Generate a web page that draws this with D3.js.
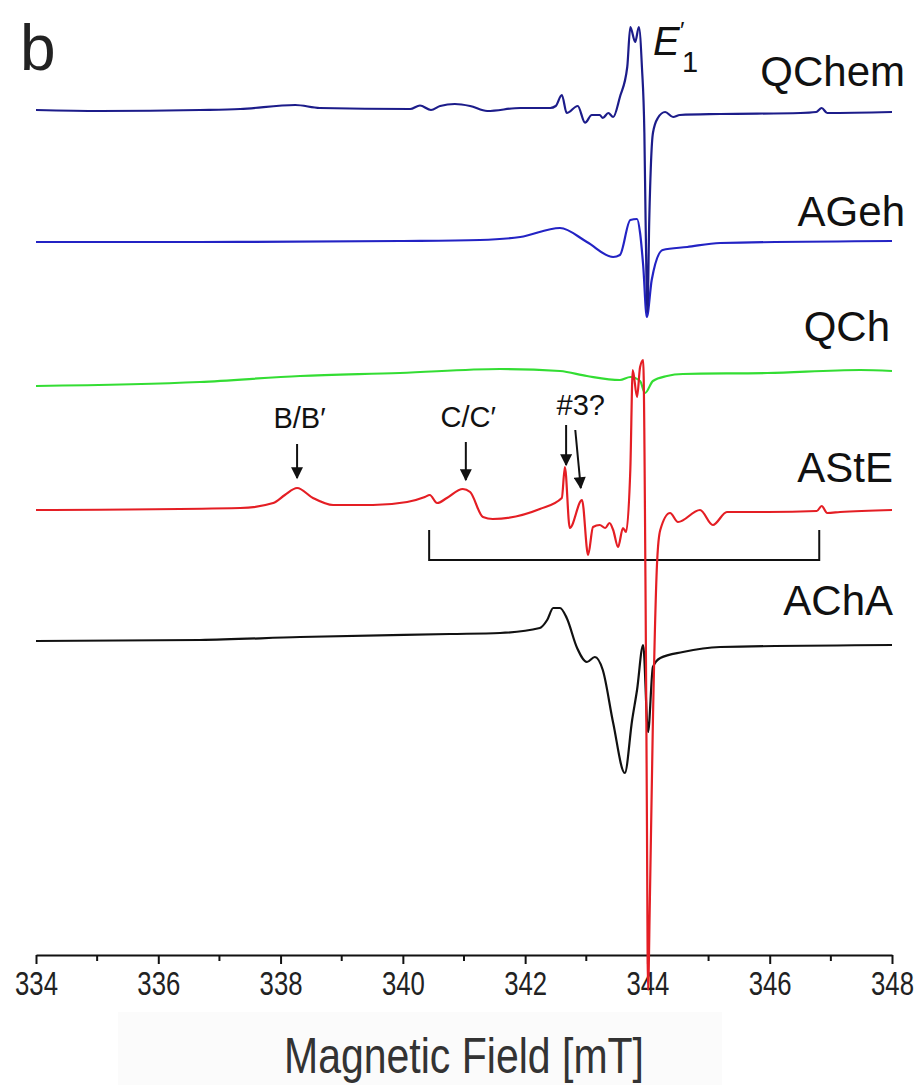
<!DOCTYPE html>
<html><head><meta charset="utf-8">
<script src="https://cdn.jsdelivr.net/npm/d3@7"></script>
<style>body{margin:0;background:#fff} svg{display:block;font-family:"Liberation Sans",Arial,sans-serif}</style>
</head><body>
<svg id="c" width="919" height="1085"></svg>
<script>
// ---------- data ----------
const fieldTicks = [334, 336, 338, 340, 342, 344, 346, 348];
const minorTicks = [335, 337, 339, 341, 343, 345, 347];
const traceNames = ["QChem", "AGeh", "QCh", "AStE", "AChA"];
const traceColors = ["#1c1c8a", "#2323c4", "#33dd33", "#e41e24", "#111111"];
const traceOffsets = [844, 714, 577, 445, 314]; // vertical stacking offsets (a.u.)

const qchemField  = [334.00,335.05,336.68,337.34,338.24,338.64,340.12,340.28,340.46,340.61,340.85,341.10,341.38,341.92,342.41,342.50,342.60,342.68,342.86,342.98,343.09,343.22,343.27,343.36,343.44,343.55,343.67,343.72,343.80,343.86,343.91,343.95,343.97,344.00,344.03,344.09,344.17,344.29,344.42,344.53,345.19,346.50,346.76,346.85,346.94,348.00];
const qchemSignal = [1,0,1,2,6,3,2,5.5,1,5,7,5,0,3,3,5,16,-2,5,-11.7,-4,-4,-7,-2,-6,14,44,84,69,84,44,-22,-109,-201,-109,-22,-7,-1,-6,-4,-3,-2,-1,3,-2,-1];

const agehField  = [334.00,336.68,339.95,341.26,341.92,342.57,343.01,343.44,343.55,343.72,343.83,343.88,343.93,343.99,344.07,344.25,344.65,345.19,348.00];
const agehSignal = [-1,-1,0,1,4,13,-1,-16,-14,21,22,8,-24,-76,-39,-9,-6,-2,0];

const qchField  = [334.00,336.68,338.32,339.95,341.59,342.57,343.01,343.55,343.72,343.88,343.96,344.09,344.32,344.58,345.96,347.48,348.00];
const qchSignal = [-8,-4,2,5,9,7,2,-2,1,-3,-15,-3,2,4,5,8,7];

const asteField  = [334.00,337.34,337.88,338.07,338.27,338.53,338.86,339.51,340.07,340.36,340.44,340.56,340.72,340.98,341.10,341.31,341.47,342.24,342.60,342.65,342.73,342.93,343.03,343.11,343.22,343.31,343.38,343.44,343.52,343.60,343.65,343.72,343.76,343.83,343.88,343.93,343.97,343.99,344.01,344.04,344.09,344.16,344.21,344.37,344.50,344.86,345.07,345.30,345.96,346.77,346.85,346.94,347.15,348.00];
const asteSignal = [0,2,7,15,22,12,5,5,8,13,15,7,12,21,18,-7,-9,1,12,43,-18,10,-45,-17,-15,-18,-13,-20,-37,-18,-22,40,140,113,143,150,-90,-290,-480,-390,-210,-50,-20,-3,-12,0,-15,-2,-2,-1,4,-3,-2,0];

const achaField  = [334.00,336.68,338.32,340.77,341.59,342.24,342.36,342.46,342.57,342.68,342.85,343.01,343.14,343.27,343.44,343.63,343.75,343.83,343.93,344.01,344.09,344.21,344.58,345.19,348.00];
const achaSignal = [0,1,4,7,8,13,21,33,33,23,-7,-21,-16,-29,-82,-132,-79,-49,-4,-91,-26,-17,-11,-6,-4];

// annotations on the AStE trace (field in mT, heights in a.u. above its baseline)
const arrowLabels = ["B/B\u2032", "C/C\u2032", "#3?"];
const labelField  = [338.31, 341.07, 342.91];
const labelHeight = [82, 83, 95];
const arrowStartField = [338.27, 341.03, 342.67, 342.82];
const arrowStartHeight = [66, 68, 85, 80];
const arrowEndField   = [338.27, 341.03, 342.67, 342.91];
const arrowEndHeight  = [32, 30, 45, 22];
const bracketField = [340.43, 346.81];
const bracketHeights = [-20, -50];

// ---------- drawing ----------
const svg = d3.select("#c");
const x = d3.scaleLinear().domain([334, 348]).range([36, 892]);
const y = d3.scaleLinear().domain([0, 955]).range([955, 0]);

// very faint box behind axis title (as in the scan)
svg.append("rect").attr("x", 118).attr("y", 1012).attr("width", 604).attr("height", 73).attr("fill", "#fbfbfb");

const traces = [
  [qchemField, qchemSignal], [agehField, agehSignal], [qchField, qchSignal],
  [asteField, asteSignal], [achaField, achaSignal]
];

// axis
const axisG = svg.append("g").attr("transform", `translate(0,${y(0)})`);
axisG.call(d3.axisBottom(x).tickValues(fieldTicks).tickSize(9).tickSizeOuter(0).tickPadding(8).tickFormat(d3.format("d")));
axisG.select(".domain").attr("stroke", "#111").attr("stroke-width", 2);
axisG.selectAll(".tick line").attr("stroke", "#111").attr("stroke-width", 2);
axisG.selectAll(".tick text").attr("font-size", 33).attr("fill", "#222")
  .attr("font-family", "'Liberation Sans',Arial,sans-serif")
  .attr("transform", "scale(0.78,1)");
axisG.selectAll(".minor").data(minorTicks).enter().append("line")
  .attr("x1", d => x(d)).attr("x2", d => x(d)).attr("y1", 0).attr("y2", 6)
  .attr("stroke", "#111").attr("stroke-width", 2);

svg.append("text").attr("transform", `translate(${x(341)},1073) scale(0.82,1)`)
  .attr("text-anchor", "middle").attr("font-size", 50).attr("fill", "#333")
  .text("Magnetic Field [mT]");

// bracket
svg.append("path")
  .attr("d", `M${x(bracketField[0])},${y(traceOffsets[3] + bracketHeights[0])} L${x(bracketField[0])},${y(traceOffsets[3] + bracketHeights[1])} L${x(bracketField[1])},${y(traceOffsets[3] + bracketHeights[1])} L${x(bracketField[1])},${y(traceOffsets[3] + bracketHeights[0])}`)
  .attr("fill", "none").attr("stroke", "#111").attr("stroke-width", 2);

// traces
const line = d3.line().curve(d3.curveMonotoneX);
const drawOrder = [4, 2, 1, 0, 3];
drawOrder.forEach(i => {
  const [f, s] = traces[i];
  const pts = f.map((fv, k) => [x(fv), y(traceOffsets[i] + s[k])]);
  svg.append("path").attr("d", line(pts)).attr("fill", "none")
    .attr("stroke", traceColors[i]).attr("stroke-width", 2.2).attr("stroke-linejoin", "round");
});

// trace labels
const labelPos = [[905, 86], [905, 226], [890, 341], [893, 482], [893, 615]];
traceNames.forEach((n, i) => {
  svg.append("text").attr("x", labelPos[i][0]).attr("y", labelPos[i][1])
    .attr("text-anchor", "end").attr("font-size", 42).attr("fill", "#111").text(n);
});

// arrows
const defs = svg.append("defs");
defs.append("marker").attr("id", "ah").attr("viewBox", "0 0 10 10").attr("refX", 9).attr("refY", 5)
  .attr("markerWidth", 7).attr("markerHeight", 6).attr("markerUnits", "strokeWidth").attr("orient", "auto")
  .append("path").attr("d", "M0,0 L10,5 L0,10 z").attr("fill", "#111");
arrowStartField.forEach((f, i) => {
  svg.append("line")
    .attr("x1", x(f)).attr("y1", y(traceOffsets[3] + arrowStartHeight[i]))
    .attr("x2", x(arrowEndField[i])).attr("y2", y(traceOffsets[3] + arrowEndHeight[i]))
    .attr("stroke", "#111").attr("stroke-width", 2).attr("marker-end", "url(#ah)");
});
arrowLabels.forEach((t, i) => {
  svg.append("text").attr("x", x(labelField[i])).attr("y", y(traceOffsets[3] + labelHeight[i]))
    .attr("text-anchor", "middle").attr("font-size", 29).attr("fill", "#111").text(t);
});

// E1' label
const ex = x(344.09), ey = y(traceOffsets[0] + 56);
svg.append("text").attr("x", ex).attr("y", ey).attr("font-size", 40).attr("font-style", "italic").attr("fill", "#111").text("E");
svg.append("text").attr("x", ex + 27).attr("y", ey - 16).attr("font-size", 24).attr("fill", "#111").text("\u2032");
svg.append("text").attr("x", ex + 29).attr("y", ey + 17).attr("font-size", 29).attr("fill", "#111").text("1");

// panel letter
svg.append("text").attr("x", 20).attr("y", 70).attr("font-size", 64).attr("fill", "#222").text("b");
</script>
</body></html>
